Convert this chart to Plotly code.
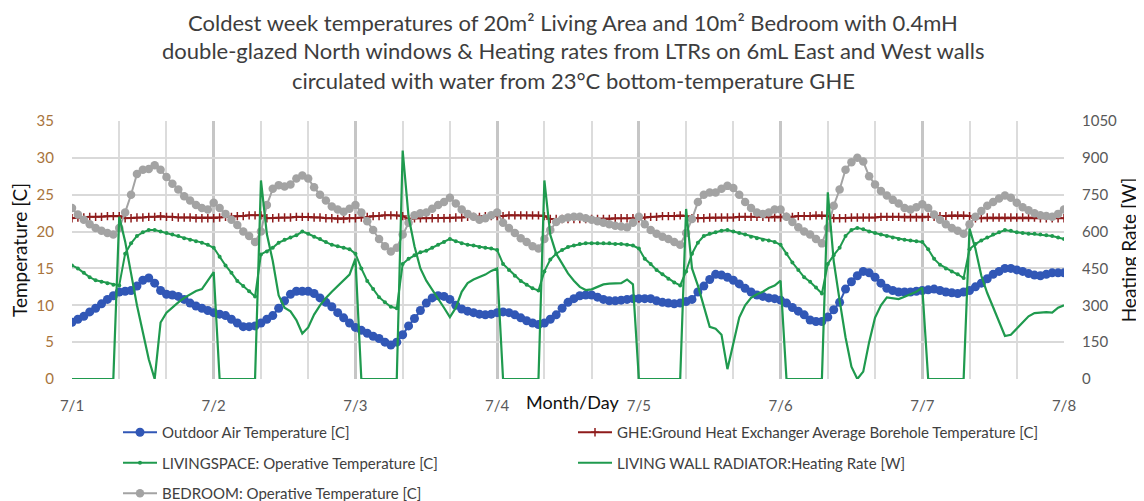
import plotly.graph_objects as go
import pandas as pd

# ---------------- data (hourly, 7/1 00:00 .. 7/8 00:00) ----------------
times = pd.date_range("2021-07-01 00:00", periods=169, freq="h")
day_ticks = pd.date_range("2021-07-01", periods=8, freq="D")
day_labels = ["7/1", "7/2", "7/3", "7/4", "7/5", "7/6", "7/7", "7/8"]

outdoor = [
    7.7, 8.1, 8.5, 9.1, 9.6, 10.2, 10.8, 11.3, 11.8, 11.9, 12.0, 12.6,
    13.4, 13.7, 13.0, 12.0, 11.5, 11.4, 11.2, 10.8, 10.3, 9.9, 9.6, 9.3,
    9.0, 8.8, 8.6, 8.1, 7.6, 7.1, 7.1, 7.2, 7.6, 8.1, 8.6, 9.6,
    10.6, 11.5, 11.9, 11.9, 11.9, 11.6, 11.0, 10.4, 9.8, 9.0, 8.3, 7.6,
    7.0, 6.6, 6.2, 5.8, 5.5, 5.0, 4.6, 5.0, 6.0, 7.2, 8.2, 9.3,
    10.3, 11.0, 11.3, 11.2, 10.8, 10.0, 9.5, 9.2, 9.0, 8.8, 8.7, 8.8,
    9.0, 9.1, 9.0, 8.7, 8.3, 7.9, 7.6, 7.4, 7.6, 8.1, 8.7, 9.6,
    10.4, 10.9, 11.3, 11.4, 11.4, 11.1, 10.8, 10.6, 10.6, 10.7, 10.8, 10.9,
    10.9, 10.9, 10.9, 10.6, 10.4, 10.3, 10.2, 10.3, 10.5, 10.8, 11.8, 12.6,
    13.5, 14.2, 14.1, 13.8, 13.4, 12.9, 12.3, 11.8, 11.4, 11.2, 11.0, 10.9,
    10.7, 10.3, 9.7, 9.2, 8.7, 8.0, 7.8, 7.8, 8.4, 9.4, 10.4, 12.2,
    13.2, 14.0, 14.6, 14.4, 13.8, 13.0, 12.3, 12.0, 11.8, 11.8, 11.8, 11.9,
    12.0, 12.1, 12.2, 12.0, 11.8, 11.7, 11.6, 11.8, 12.0, 12.5, 13.0, 13.6,
    14.2, 14.6, 15.0, 15.0, 14.8, 14.6, 14.3, 14.1, 14.0, 14.2, 14.4, 14.4,
    14.4,
]

ghe = [
    21.8, 21.9, 21.9, 22.0, 22.0, 22.0, 22.1, 22.1, 22.1, 21.8, 21.8, 21.9,
    21.9, 22.0, 22.0, 22.1, 22.0, 22.0, 21.9, 21.9, 21.9, 21.8, 21.8, 21.8,
    21.8, 21.9, 22.0, 22.0, 22.1, 22.1, 22.2, 22.2, 22.2, 21.8, 21.8, 21.9,
    21.9, 21.9, 22.0, 22.0, 22.0, 21.9, 21.9, 21.8, 21.8, 21.7, 21.7, 21.8,
    21.8, 21.9, 22.0, 22.1, 22.1, 22.2, 22.2, 22.2, 22.1, 21.7, 21.8, 21.8,
    21.8, 21.8, 21.8, 21.8, 21.8, 21.9, 21.9, 22.0, 22.0, 22.0, 22.1, 22.1,
    22.1, 22.1, 22.2, 22.2, 22.2, 22.2, 22.2, 22.2, 22.1, 21.7, 21.7, 21.7,
    21.7, 21.7, 21.7, 21.7, 21.7, 21.7, 21.7, 21.7, 21.8, 21.8, 21.8, 21.8,
    21.8, 21.9, 22.0, 22.0, 22.1, 22.1, 22.1, 22.2, 22.1, 21.8, 21.8, 21.8,
    21.9, 21.9, 21.9, 21.9, 21.9, 22.0, 22.0, 22.0, 22.0, 22.0, 21.9, 21.9,
    21.9, 22.0, 22.0, 22.1, 22.1, 22.1, 22.2, 22.2, 22.1, 21.8, 21.8, 21.8,
    21.9, 21.9, 21.9, 21.9, 21.9, 22.0, 22.0, 22.0, 22.0, 21.9, 21.9, 21.9,
    21.9, 22.0, 22.0, 22.1, 22.1, 22.2, 22.2, 22.2, 22.1, 21.8, 21.8, 21.9,
    21.9, 21.9, 21.9, 21.9, 21.9, 21.9, 21.9, 21.9, 21.8, 21.8, 21.8, 21.8,
    21.8,
]

living = [
    15.4, 15.0, 14.4, 13.8, 13.4, 13.2, 13.0, 12.8, 12.7, 17.0, 18.4, 19.4,
    19.9, 20.2, 20.2, 20.0, 19.8, 19.6, 19.4, 19.1, 18.9, 18.7, 18.5, 18.2,
    17.8, 16.6, 15.4, 14.4, 13.3, 12.6, 11.9, 11.2, 16.9, 17.3, 17.8, 18.5,
    18.9, 19.2, 19.5, 20.0, 19.7, 19.3, 19.0, 18.6, 18.2, 18.0, 17.8, 17.6,
    17.0, 15.0, 13.3, 12.2, 11.1, 10.4, 9.8, 9.6, 15.6, 16.3, 16.8, 17.2,
    17.4, 17.8, 18.2, 18.6, 19.0, 18.7, 18.4, 18.2, 18.1, 17.9, 17.8, 17.7,
    17.5, 15.6, 14.8, 14.0, 13.3, 12.8, 12.3, 12.0, 14.6, 16.2, 17.0, 17.5,
    17.9, 18.1, 18.3, 18.4, 18.4, 18.4, 18.4, 18.4, 18.3, 18.3, 18.2, 18.1,
    17.7, 16.3, 15.6, 14.8, 14.2, 13.6, 13.1, 12.7, 14.6, 17.0, 18.5, 19.4,
    19.7, 19.9, 20.1, 20.2, 20.0, 19.8, 19.6, 19.3, 19.1, 18.9, 18.8, 18.6,
    18.2, 17.0, 15.8, 14.8, 13.8, 13.2, 12.4, 11.6, 15.6, 16.8, 17.8, 19.4,
    20.2, 20.5, 20.3, 20.0, 19.8, 19.6, 19.4, 19.2, 19.0, 18.9, 18.8, 18.7,
    18.6, 17.6, 16.3, 15.5, 15.0, 14.6, 14.2, 13.7, 17.6, 18.3, 18.8, 19.2,
    19.6, 19.9, 20.2, 20.1, 19.9, 19.8, 19.7, 19.7, 19.6, 19.5, 19.4, 19.2,
    19.0,
]

bedroom = [
    23.2, 22.3, 21.6, 21.0, 20.5, 20.1, 19.8, 19.6, 20.5, 22.6, 25.0, 27.8,
    28.4, 28.5, 29.0, 28.4, 27.4, 26.5, 25.7, 24.8, 24.2, 23.6, 23.2, 23.0,
    23.9, 23.2, 22.4, 21.6, 20.9, 20.0, 19.4, 18.6, 20.0, 23.6, 25.8, 26.3,
    26.1, 26.4, 27.2, 27.6, 27.2, 26.0, 25.0, 24.2, 23.4, 23.0, 22.7, 23.1,
    23.6, 22.6, 21.4, 20.2, 19.0, 18.0, 17.3, 17.8, 19.6, 21.2, 22.2, 22.5,
    22.6, 23.1, 23.6, 24.0, 24.6, 23.8, 23.0, 22.4, 22.0, 21.6, 21.8, 22.2,
    22.6, 21.2, 20.5, 19.8, 19.1, 18.6, 18.0, 17.7, 19.0, 20.2, 21.3, 21.7,
    21.9, 22.0, 22.0, 21.8, 21.6, 21.4, 21.2, 21.0, 20.8, 20.7, 20.6, 21.2,
    22.0, 21.0, 20.2, 19.7, 19.3, 19.0, 18.6, 18.2, 19.8, 21.7, 24.0, 25.0,
    25.3, 25.3, 25.8, 26.2, 25.9, 25.0, 24.0, 23.2, 22.6, 22.4, 22.6, 23.0,
    23.0, 22.0, 21.3, 20.6, 20.0, 19.6, 19.0, 18.4, 20.5, 23.5, 25.7, 28.4,
    29.4, 30.0, 29.5, 27.5, 26.4, 25.5, 24.9, 24.3, 23.8, 23.2, 23.0, 23.3,
    23.7, 23.2, 22.3, 21.6, 21.0, 20.5, 20.1, 19.7, 21.0, 22.0, 22.8, 23.5,
    24.0, 24.5, 24.9, 24.6, 23.9, 23.3, 22.9, 22.5, 22.2, 22.1, 22.0, 22.4,
    23.0,
]

heating = [
    0, 0, 0, 0, 0, 0, 0, 0, 660, 560, 430, 300,
    190, 80, 0, 230, 270, 292, 312, 330, 345, 358, 366, 400,
    435, 0, 0, 0, 0, 0, 0, 0, 808, 590, 480, 340,
    290, 275, 240, 185, 210, 262, 300, 330, 355, 378, 400, 425,
    490, 0, 0, 0, 0, 0, 0, 0, 930, 660, 540, 450,
    400, 365, 330, 290, 252, 290, 355, 390, 405, 415, 425, 440,
    450, 0, 0, 0, 0, 0, 0, 0, 808, 587, 510, 470,
    430, 400, 375, 362, 365, 375, 385, 388, 388, 390, 405, 385,
    0, 0, 0, 0, 0, 0, 0, 0, 692, 450, 380, 290,
    212, 205, 180, 40, 150, 250, 300, 330, 345, 355, 370, 380,
    400, 0, 0, 0, 0, 0, 0, 0, 760, 480, 320, 170,
    50, 0, 30, 150, 250, 300, 332, 330, 325, 335, 345, 355,
    372, 0, 0, 0, 0, 0, 0, 0, 612, 530, 420, 350,
    292, 230, 175, 180, 205, 230, 255, 268, 270, 272, 270, 290,
    300,
]

title_lines = [
    "Coldest week temperatures of 20m² Living Area and 10m² Bedroom with 0.4mH",
    "double-glazed North windows & Heating rates from LTRs on 6mL East and West walls",
    "circulated with water from 23°C bottom-temperature GHE",
]

# ---------------- styles ----------------
BLUE = "#3157b6"
RED = "#8e1b1b"
GREEN = "#1f9a4e"
GRAY = "#a3a3a3"
FONT = "Lato"

fig = go.Figure()

fig.add_trace(go.Scatter(
    x=times, y=outdoor, name="Outdoor Air Temperature [C]",
    mode="lines+markers", line=dict(color=BLUE, width=2),
    marker=dict(color=BLUE, size=9), legend="legend", legendgroup="a",
))
fig.add_trace(go.Scatter(
    x=times, y=ghe, name="GHE:Ground Heat Exchanger Average Borehole Temperature [C]",
    mode="lines+markers", line=dict(color=RED, width=2),
    marker=dict(color=RED, size=6, symbol="cross-thin", line=dict(color=RED, width=1.5)),
    legend="legend2", legendgroup="d",
))
fig.add_trace(go.Scatter(
    x=times, y=living, name="LIVINGSPACE: Operative Temperature [C]",
    mode="lines+markers", line=dict(color=GREEN, width=2),
    marker=dict(color=GREEN, size=4), legend="legend", legendgroup="b",
))
fig.add_trace(go.Scatter(
    x=times, y=bedroom, name="BEDROOM: Operative Temperature [C]",
    mode="lines+markers", line=dict(color=GRAY, width=2),
    marker=dict(color=GRAY, size=8.5), legend="legend", legendgroup="c",
))
fig.add_trace(go.Scatter(
    x=times, y=heating, name="LIVING WALL RADIATOR:Heating Rate [W]",
    mode="lines", line=dict(color=GREEN, width=2.2), yaxis="y2",
    legend="legend2", legendgroup="e",
))

# The page body has an 8px default margin, so the figure is drawn 8px in.
OFF = 8
W, H = 1144 - OFF, 501 - OFF
# plot area in screen pixels: x 72..1064, y 121..379
SL, SR, ST, SB = 72, 1064, 121, 379
PL, PR, PT, PB = SL - OFF, SR - OFF, ST - OFF, SB - OFF


def px_x(sx):
    return (sx - SL) / (SR - SL)


def px_y(sy):
    return (SB - sy) / (SB - ST)


legend_common = dict(
    xref="paper", yref="paper", xanchor="left", yanchor="top",
    orientation="v", traceorder="grouped", tracegroupgap=8,
    font=dict(family=FONT, size=15, color="#404040"),
    bgcolor="rgba(0,0,0,0)", itemwidth=34,
)

annotations = []
title_y = [22, 51, 81]
for line, ty in zip(title_lines, title_y):
    annotations.append(dict(
        text=line, xref="paper", yref="paper", x=px_x(573), y=px_y(ty),
        xanchor="center", yanchor="middle", showarrow=False,
        font=dict(family=FONT, size=22, color="#3d3d3d"),
    ))
annotations += [
    dict(text="Month/Day", xref="paper", yref="paper", x=px_x(572), y=px_y(402),
         xanchor="center", yanchor="middle", showarrow=False,
         font=dict(family=FONT, size=18, color="#111111")),
]

fig.update_layout(
    width=W, height=H,
    margin=dict(l=PL, r=W - PR, t=PT, b=H - PB, autoexpand=False),
    paper_bgcolor="white", plot_bgcolor="white",
    font=dict(family=FONT, color="#404040"),
    xaxis=dict(
        range=[times[0], times[-1]],
        tickvals=day_ticks, ticktext=day_labels,
        showgrid=True, gridcolor="#c6c6c6", gridwidth=3,
        minor=dict(dtick=8 * 3600 * 1000, showgrid=True, gridcolor="#dcdcdc", gridwidth=1.5),
        ticks="outside", ticklen=13, tickcolor="rgba(0,0,0,0)",
        tickfont=dict(family=FONT, size=15, color="#595959"),
        zeroline=False, showline=False,
    ),
    yaxis=dict(
        range=[0, 35], dtick=5,
        showgrid=True, gridcolor="#d9d9d9", gridwidth=1.5,
        ticks="outside", ticklen=14, tickcolor="rgba(0,0,0,0)",
        tickfont=dict(family=FONT, size=15, color="#a8743c"),
        zeroline=False, showline=False,
        title=dict(text="Temperature [C]", standoff=6,
                   font=dict(family=FONT, size=19, color="#111111")),
    ),
    yaxis2=dict(
        range=[0, 1050], dtick=150, overlaying="y", side="right",
        showgrid=False, zeroline=False, showline=False,
        ticks="outside", ticklen=14, tickcolor="rgba(0,0,0,0)",
        tickfont=dict(family=FONT, size=15, color="#595959"),
        title=dict(text="Heating Rate [W]", standoff=6,
                   font=dict(family=FONT, size=19, color="#111111")),
    ),
    legend=dict(x=px_x(118), y=px_y(416), **legend_common),
    legend2=dict(x=px_x(573), y=px_y(416), **legend_common),
    annotations=annotations,
)

fig.write_html("out.html")
